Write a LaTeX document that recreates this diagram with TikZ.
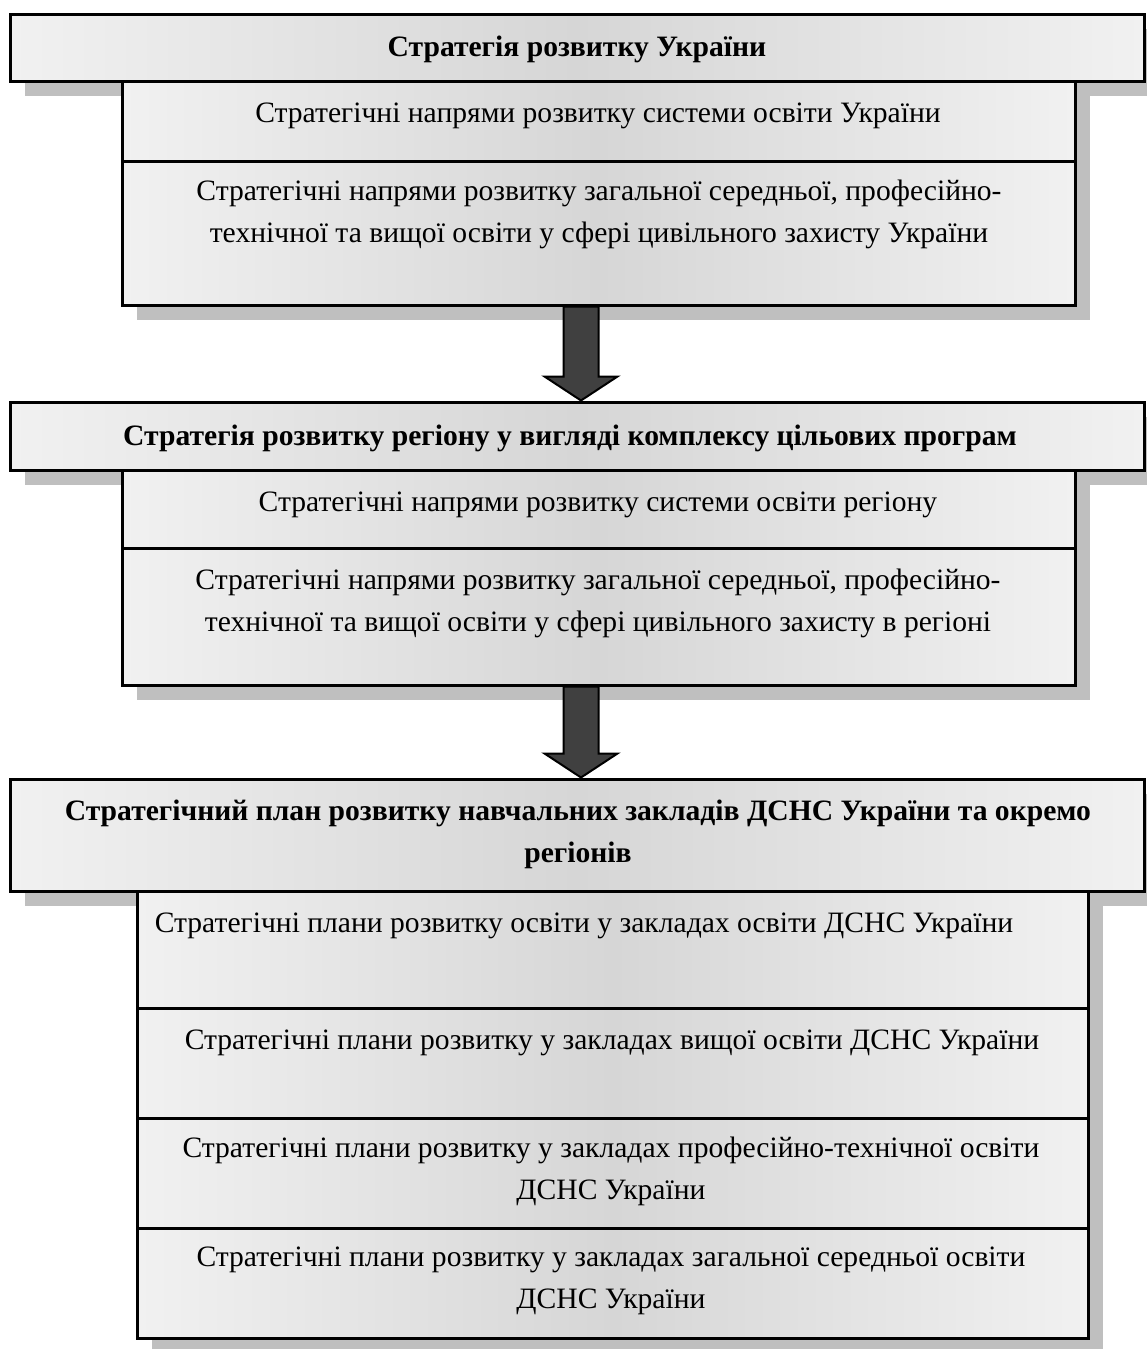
\documentclass[tikz,border=0pt]{standalone}
\usepackage{fontspec}
\setmainfont{Liberation Serif}
\usetikzlibrary{calc,shadows}

\definecolor{boxlight}{RGB}{241,241,241}
\definecolor{boxmid}{RGB}{214,214,214}
\definecolor{shadowgray}{RGB}{191,191,191}
\definecolor{arrowgray}{RGB}{64,64,64}

\tikzset{every picture/.style={line width=0.75pt}}
\tikzset{
  plainbox/.style={draw, line width=2.25pt, inner sep=0pt, left color=boxlight, right color=boxlight, middle color=boxmid,
    drop shadow={shadow xshift=11.5pt, shadow yshift=-11.5pt, fill=shadowgray, opacity=1}},
  hdrbox/.style={plainbox, minimum width=850.5pt},
  subbox/.style={plainbox, minimum width=714.75pt},
  planbox/.style={plainbox, minimum width=713.25pt},
  blockarrow/.style={draw, line width=1.5pt, fill=arrowgray, line join=miter},
  txt/.style={align=center, yshift=-2.6pt, font=\fontsize{22.2pt}{31.5pt}\selectfont},
  hdrtxt/.style={txt, font=\fontsize{22.2pt}{31pt}\selectfont\bfseries}
}

\begin{document}
\begin{tikzpicture}[x=0.75pt,y=0.75pt,yscale=-1,xscale=1]
        \useasboundingbox (0,0) rectangle (1146,1349);

        % country level
        \node [hdrbox, minimum height=50.25pt] (h1) at (577,47.5) {};
        \node [subbox, minimum height=60pt] (b1) at (598.5,121) {};
        \node [subbox, minimum height=108pt] (b2) at (598.5,233) {};

        % region level
        \node [hdrbox, minimum height=51pt] (h2) at (577,436) {};
        \node [subbox, minimum height=58.5pt] (c1) at (598.5,509) {};
        \node [subbox, minimum height=102.75pt] (c2) at (598.5,616.5) {};

        \coordinate (ax) at (581,0);
        \draw [blockarrow] ($(ax |- b2.south)+(-17.5,0)$) -- ($(ax |- h2.north)+(-17.5,-24)$) -- ($(ax |- h2.north)+(-36.5,-24)$) -- ($(ax |- h2.north)$) -- ($(ax |- h2.north)+(36.5,-24)$) -- ($(ax |- h2.north)+(17.5,-24)$) -- ($(ax |- b2.south)+(17.5,0)$) -- cycle ;

        % institutions level
        \node [hdrbox, minimum height=84pt] (h3) at (577,835) {};
        \node [planbox, minimum height=87.75pt] (d1) at (612.5,949.5) {};
        \node [planbox, minimum height=82.5pt] (d2) at (612.5,1063) {};
        \node [planbox, minimum height=82.5pt] (d3) at (612.5,1173) {};
        \node [planbox, minimum height=82.5pt] (d4) at (612.5,1283) {};

        \draw [blockarrow] ($(ax |- c2.south)+(-17.5,0)$) -- ($(ax |- h3.north)+(-17.5,-24)$) -- ($(ax |- h3.north)+(-36.5,-24)$) -- ($(ax |- h3.north)$) -- ($(ax |- h3.north)+(36.5,-24)$) -- ($(ax |- h3.north)+(17.5,-24)$) -- ($(ax |- c2.south)+(17.5,0)$) -- cycle ;

        \node [hdrtxt] (t-h1) at (577,46) {Стратегія розвитку України};
        \node [txt] (t-b1) at (598,112) {Стратегічні напрями розвитку системи освіти України};
        \node [txt] (t-b2) at (599,211) {Стратегічні напрями розвитку загальної середньої, професійно-\\технічної та вищої освіти у сфері цивільного захисту України};
        \node [hdrtxt] (t-h2) at (570,435) {Стратегія розвитку регіону у вигляді комплексу цільових програм};
        \node [txt] (t-c1) at (598,501) {Стратегічні напрями розвитку системи освіти регіону};
        \node [txt] (t-c2) at (598,600) {Стратегічні напрями розвитку загальної середньої, професійно-\\технічної та вищої освіти у сфері цивільного захисту в регіоні};
        \node [hdrtxt] (t-h3) at (578,831) {Стратегічний план розвитку навчальних закладів ДСНС України та окремо\\регіонів};
        \node [txt] (t-d1) at (584,922) {Стратегічні плани розвитку освіти у закладах освіти ДСНС України};
        \node [txt] (t-d2) at (612,1039) {Стратегічні плани розвитку у закладах вищої освіти ДСНС України};
        \node [txt] (t-d3) at (611,1167.5) {Стратегічні плани розвитку у закладах професійно-технічної освіти\\ДСНС України};
        \node [txt] (t-d4) at (611,1277.5) {Стратегічні плани розвитку у закладах загальної середньої освіти\\ДСНС України};

\end{tikzpicture}
\end{document}
